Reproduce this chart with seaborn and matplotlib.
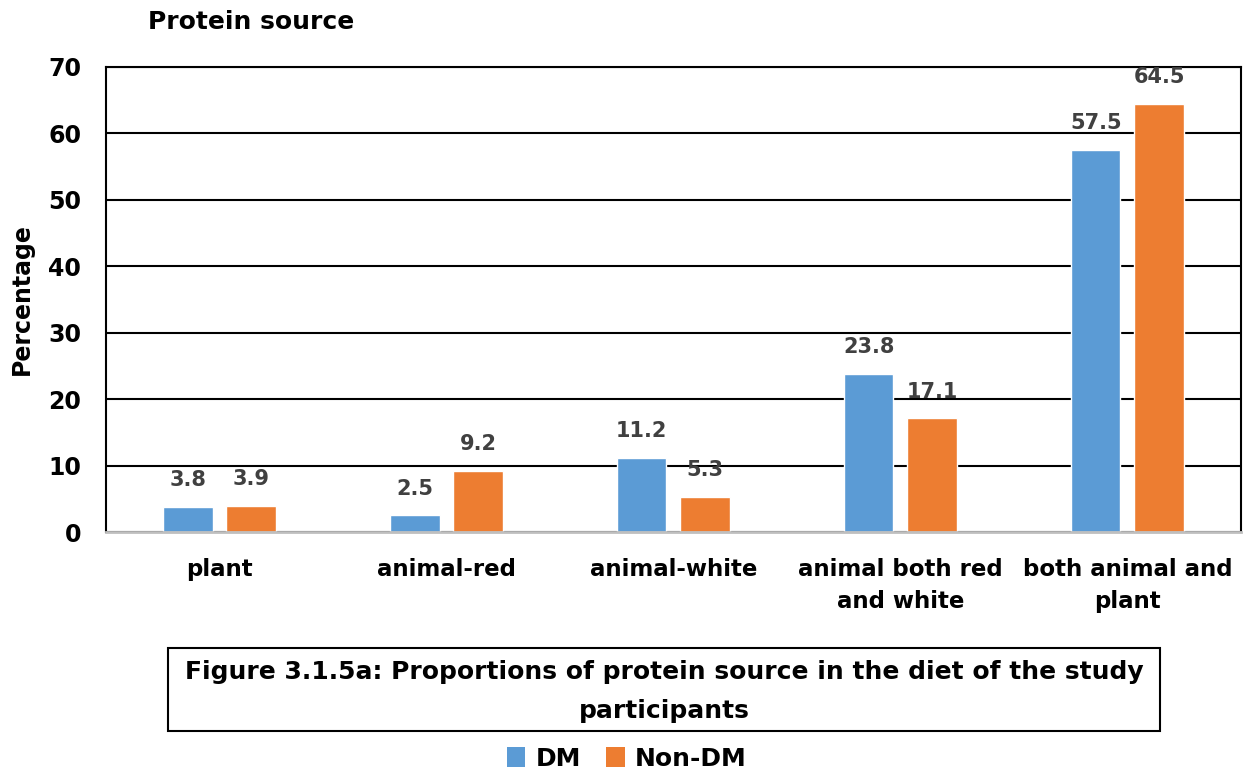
import matplotlib
matplotlib.use("Agg")
import matplotlib.pyplot as plt
from matplotlib.patches import Rectangle, Patch
import seaborn as sns
import pandas as pd

# Protein source categories and percentages per group
categories = ["plant", "animal-red", "animal-white",
              "animal both red\nand white", "both animal and\nplant"]
dm_values = [3.8, 2.5, 11.2, 23.8, 57.5]
non_dm_values = [3.9, 9.2, 5.3, 17.1, 64.5]
groups = ["DM", "Non-DM"]
y_ticks = [0, 10, 20, 30, 40, 50, 60, 70]

palette = {"DM": "#5B9BD5", "Non-DM": "#ED7D31"}

df = pd.DataFrame({
    "category": categories * 2,
    "group": [groups[0]] * len(categories) + [groups[1]] * len(categories),
    "value": dm_values + non_dm_values,
})

sns.set_theme(style="white")
plt.rcParams["font.family"] = ["DejaVu Sans"]
plt.rcParams["font.weight"] = "bold"
plt.rcParams["text.color"] = "black"
plt.rcParams["axes.labelcolor"] = "black"
plt.rcParams["xtick.color"] = "black"
plt.rcParams["ytick.color"] = "black"

fig = plt.figure(figsize=(12.53, 7.76), dpi=100)
ax = fig.add_axes([0.0846, 0.3144, 0.9058, 0.5993])

sns.barplot(data=df, x="category", y="value", hue="group", order=categories,
            hue_order=groups, palette=palette, width=0.56, gap=0.22,
            saturation=1, ax=ax, legend=False, zorder=3)

ax.set_ylim(0, 70)
ax.set_xlim(-0.5, len(categories) - 0.5)
ax.set_yticks(y_ticks)
ax.set_yticklabels([str(t) for t in y_ticks], fontsize=17, fontweight="bold")
ax.tick_params(axis="y", length=0, pad=18)
ax.tick_params(axis="x", length=0, pad=19)
for lbl in ax.get_xticklabels():
    lbl.set_fontsize(16.5)
    lbl.set_fontweight("bold")
    lbl.set_linespacing(1.45)

ax.yaxis.grid(True, color="black", linewidth=1.5, zorder=0)
ax.set_axisbelow(True)
ax.set_xlabel("")
ax.set_ylabel("Percentage", fontsize=17, fontweight="bold")
ax.yaxis.set_label_coords(-0.074, 0.5)
ax.yaxis.label.set_verticalalignment("center")

for side in ["left", "right", "top"]:
    ax.spines[side].set_color("black")
    ax.spines[side].set_linewidth(1.5)
    ax.spines[side].set_visible(True)
ax.spines["bottom"].set_color("#BFBFBF")
ax.spines["bottom"].set_linewidth(2)
ax.spines["bottom"].set_zorder(4)

for container in ax.containers:
    ax.bar_label(container, fmt="%.1f", padding=12, fontsize=15,
                 fontweight="bold", color="#404040")

fig.text(0.118, 0.972, "Protein source", fontsize=18, fontweight="bold",
         ha="left", va="center")

# Caption box under the chart
fig.add_artist(Rectangle((0.134, 0.058), 0.792, 0.107, transform=fig.transFigure,
                         fill=False, edgecolor="black", linewidth=1.5))
fig.text(0.53, 0.109,
         "Figure 3.1.5a: Proportions of protein source in the diet of the study\nparticipants",
         fontsize=18, fontweight="bold", ha="center", va="center", linespacing=1.8)

handles = [Patch(facecolor=palette[g], edgecolor="none", label=g) for g in groups]
fig.legend(handles=handles, loc="center", bbox_to_anchor=(0.5, 0.022), ncol=2,
           frameon=False, handlelength=0.75, handleheight=0.85,
           handletextpad=0.4, columnspacing=1.0, prop={"weight": "bold", "size": 18})

fig.savefig("out.png", dpi=100)
